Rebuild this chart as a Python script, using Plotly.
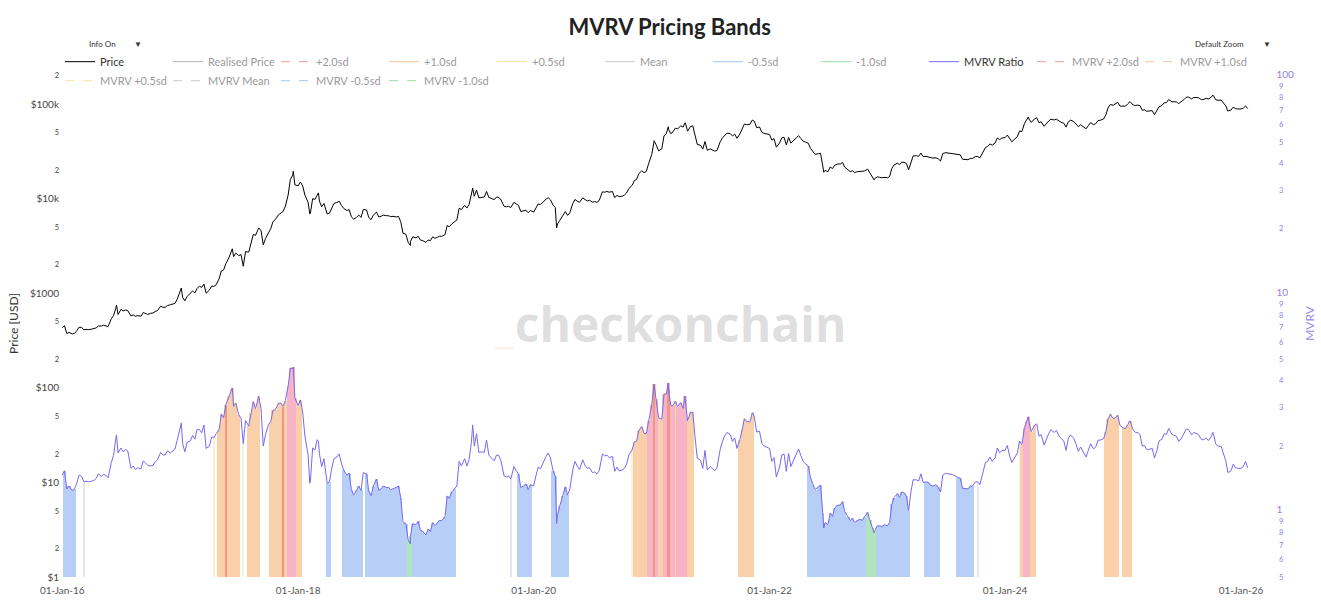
import pandas as pd
import plotly.graph_objects as go

# ---------------- data (samples on days 1, 8, 15, 22 of each month) ----------------
sample_days = [1, 8, 15, 22]
years = list(range(2016, 2026))

price_2016 = [434,453,375,385, 372,376,401,437, 435,412,415,412, 417,421,430,450, 450,460,455,444, 537,580,695,595,
              676,650,665,655, 575,590,570,580, 572,625,608,596, 614,618,640,655, 730,710,710,740, 755,770,780,860]
price_2017 = [1080,905,830,925, 990,1055,1010,1125, 1190,1150,1250,1000, 1080,1190,1180,1230, 1420,1720,1760,2050,
              2400,2800,2440,2650, 2500,2560,1930,2750, 2720,3420,4180,4100, 4900,4600,3250,3800, 4400,4800,5700,6000,
              6750,7100,7300,8200, 10900,16000,17700,14000]
price_2018 = [13650,15000,13650,10900, 9100,7000,10000,9800, 10900,9400,8200,8900, 6900,7000,8000,8900, 9100,9400,8500,7900,
              7500,7650,6450,6050, 6350,6700,6350,7700, 7600,6300,6000,6700, 7200,6400,6500,6700, 6600,6600,6450,6500,
              6400,6500,5700,4300, 4200,3450,3500,3950]
price_2019 = [3850,4000,3650,3600, 3450,3650,3600,3950, 3800,3900,4000,4000, 4150,5200,5050,5400, 5700,5950,7900,7700,
              8500,7950,8700,10700, 10600,12300,10200,10350, 10400,11900,10300,10100, 9750,10400,10300,9700,
              8300,8200,8300,8050, 9150,8800,8500,7300, 7400,7550,7100,7500]
price_2020 = [7200,8050,8800,8650, 9400,9850,10250,9700, 8550,8050,5400,5900, 6600,7300,6650,7100, 8850,9800,9400,9150,
              10200,9700,9450,9600, 9200,9300,9150,9550, 11800,11700,11900,11700, 11900,10250,10800,10500,
              10600,10900,11500,12800, 13800,15500,16000,18400, 19700,18800,19400,23300]
price_2021 = [29400,40000,36800,32100, 33500,46200,48600,54000, 48500,51000,55600,54500, 59000,57000,63200,51700,
              57800,58900,46400,37500, 36700,33400,40200,32500, 33500,32800,31800,32300, 39900,43800,47000,49300,
              48800,46000,48100,43500, 48200,53900,61500,60600, 61000,67500,65500,56300, 57200,50500,48900,48600]
price_2022 = [47700,41600,43100,35000, 38700,44000,44500,37000, 44400,38700,41000,42800, 46300,43200,40600,39700,
              38500,34000,31300,29400, 29800,30200,22100,19900, 19300,21600,20800,22600, 23300,23200,24100,21500,
              20100,19300,19700,18900, 19300,19400,19200,19600, 20500,18500,16900,16200, 17000,16800,16600,16800]
price_2023 = [16600,17100,20900,22700, 23700,22900,24300,24200, 23600,20200,24700,28300, 28400,28000,30300,27800,
              28000,27700,27000,26800, 27000,26300,25000,30000, 30600,30300,30300,30100, 29700,29200,29100,26100,
              25900,25800,26600,26600, 27900,27900,27000,30000, 34700,35600,37900,36700, 38700,43800,42000,43700]
price_2024 = [44200,47000,42500,39900, 43100,45300,52000,51000, 62400,68300,69500,64000, 69700,71600,63400,64900,
              58200,62300,66200,69200, 67800,69300,66000,64200, 62700,57000,64800,67600, 65400,61700,57600,60400,
              57300,54800,59100,63600, 60600,62100,67000,67400, 69500,76500,91000,98900, 97000,100000,104400,95200]
price_2025 = [94400,95000,100500,106100, 97700,96500,97500,96100, 86000,86800,83900,84100, 85200,77300,83700,93400,
              96500,103200,103500,111600, 105700,105700,105500,101000, 105700,111300,117700,118800,
              113300,117500,117400,116800, 111200,112100,115300,112700, 118500,122000,110800,109600,
              110000,102300,95500,84700, 86300,92700,89500,88600]
price_2026 = [88700,90500,95500,89500]

mvrv_2016 = [1.47,1.54,1.27,1.31, 1.25,1.27,1.35,1.47, 1.45,1.37,1.38,1.37, 1.38,1.39,1.42,1.49, 1.45,1.48,1.47,1.43,
             1.68,1.81,2.17,1.86, 1.96,1.88,1.93,1.90, 1.58,1.62,1.56,1.59, 1.57,1.71,1.67,1.63, 1.62,1.63,1.69,1.73,
             1.87,1.82,1.82,1.90, 1.86,1.90,1.93,2.12]
mvrv_2017 = [2.45,2.05,1.88,2.08, 2.11,2.24,2.15,2.39, 2.38,2.30,2.50,1.95, 2.00,2.20,2.19,2.28, 2.37,2.80,2.70,3.10,
             3.40,3.65,3.05,3.15, 2.78,2.69,2.05,2.62, 2.47,2.85,3.20,2.97, 3.38,2.97,2.00,2.26, 2.51,2.59,2.92,2.93,
             3.14,3.16,3.04,3.22, 3.76,4.57,4.54,3.33]
mvrv_2018 = [3.07,3.26,2.87,2.22, 1.82,1.38,1.96,1.92, 2.14,1.84,1.61,1.75, 1.35,1.37,1.57,1.75, 1.78,1.84,1.67,1.55,
             1.47,1.50,1.26,1.19, 1.25,1.31,1.25,1.51, 1.49,1.24,1.18,1.31, 1.41,1.25,1.27,1.31, 1.29,1.29,1.26,1.27,
             1.29,1.31,1.16,0.89, 0.88,0.74,0.77,0.88]
mvrv_2019 = [0.87,0.90,0.82,0.81, 0.78,0.83,0.81,0.89, 0.86,0.89,0.91,0.91, 0.94,1.18,1.15,1.23, 1.27,1.31,1.70,1.62,
             1.75,1.62,1.74,2.08, 2.00,2.28,1.87,1.88, 1.87,2.13,1.82,1.77, 1.71,1.82,1.81,1.70, 1.46,1.44,1.46,1.41,
             1.61,1.54,1.49,1.29, 1.31,1.34,1.26,1.33]
mvrv_2020 = [1.31,1.46,1.60,1.57, 1.71,1.79,1.86,1.76, 1.54,1.45,0.97,1.06, 1.18,1.30,1.19,1.27, 1.55,1.70,1.62,1.56,
             1.73,1.63,1.58,1.59, 1.51,1.52,1.49,1.54, 1.84,1.80,1.82,1.77, 1.79,1.53,1.60,1.54, 1.55,1.58,1.65,1.82,
             1.92,2.09,2.11,2.36, 2.46,2.29,2.28,2.62]
mvrv_2021 = [3.09,3.85,3.29,2.70, 2.66,3.47,3.47,3.65, 3.07,3.07,3.21,3.04, 3.17,2.98,3.24,2.61, 2.86,2.86,2.21,1.76,
             1.72,1.58,1.91,1.55, 1.61,1.58,1.54,1.58, 1.93,2.10,2.23,2.31, 2.26,2.10,2.18,1.95, 2.14,2.37,2.67,2.60,
             2.58,2.82,2.72,2.32, 2.34,2.06,2.00,1.98]
mvrv_2022 = [1.95,1.70,1.77,1.44, 1.60,1.82,1.84,1.53, 1.85,1.61,1.71,1.78, 1.94,1.81,1.70,1.66, 1.62,1.43,1.33,1.26,
             1.30,1.32,0.98,0.89, 0.87,0.98,0.95,1.04, 1.07,1.07,1.11,1.00, 0.94,0.91,0.93,0.89, 0.91,0.92,0.91,0.94,
             0.99,0.91,0.84,0.81, 0.86,0.86,0.85,0.87]
mvrv_2023 = [0.86,0.89,1.08,1.16, 1.21,1.16,1.23,1.22, 1.18,1.01,1.23,1.40, 1.40,1.38,1.49,1.36, 1.37,1.36,1.32,1.31,
             1.33,1.29,1.23,1.47, 1.50,1.49,1.49,1.48, 1.45,1.43,1.42,1.28, 1.28,1.27,1.31,1.31, 1.37,1.37,1.33,1.47,
             1.68,1.70,1.78,1.70, 1.77,1.96,1.86,1.91]
mvrv_2024 = [1.91,2.01,1.80,1.68, 1.80,1.86,2.11,2.03, 2.43,2.59,2.57,2.33, 2.49,2.53,2.22,2.26, 2.02,2.16,2.28,2.38,
             2.31,2.36,2.24,2.17, 2.11,1.91,2.17,2.25, 2.17,2.04,1.89,1.98, 1.87,1.78,1.91,2.05, 1.94,1.98,2.13,2.13,
             2.16,2.32,2.66,2.80, 2.67,2.70,2.77,2.49]
mvrv_2025 = [2.42,2.41,2.51,2.61, 2.37,2.31,2.31,2.26, 2.00,2.01,1.93,1.93, 1.95,1.76,1.90,2.11, 2.15,2.28,2.26,2.41,
             2.26,2.24,2.22,2.10, 2.18,2.28,2.39,2.39, 2.25,2.31,2.29,2.26, 2.14,2.14,2.18,2.12, 2.21,2.26,2.04,2.00,
             1.99,1.84,1.71,1.51, 1.54,1.65,1.59,1.58]
mvrv_2026 = [1.58,1.61,1.70,1.59]

# extra samples at local extremes
extra_dates = ['2016-06-17','2017-01-04','2017-06-11','2017-12-17','2018-02-06','2018-03-05','2018-12-15',
               '2019-06-26','2020-03-12','2021-01-08','2021-02-21','2021-04-14','2021-11-10','2022-06-18',
               '2022-11-21','2024-03-13','2025-10-06','2025-11-21']
extra_price = [750,1135,2950,19500,6900,11500,3200,12900,4900,41000,57500,63500,67500,19000,15800,73000,124500,84500]
extra_mvrv = [2.25,2.55,3.70,4.62,1.35,2.10,0.71,2.50,0.88,3.85,3.90,3.40,2.85,0.84,0.80,2.73,2.31,1.52]

# realised price (monthly, 1st of month) - hidden series
realised_price = [295,297,300,303,310,320,340,355,365,378,390,405,
                  440,470,500,540,620,780,950,1250,1600,1900,2300,3400,
                  4600,5000,5100,5100,5100,5100,5100,5100,5100,5100,4950,4750,
                  4450,4420,4400,4400,4500,4850,5300,5550,5700,5700,5700,5650,
                  5500,5700,5550,5600,5700,5900,6100,6400,6650,6850,7200,8000,
                  9500,12600,15800,18600,20200,21300,20800,20700,21600,22500,23600,24400,
                  24500,24200,24000,23900,23800,23000,22100,21750,21400,21100,20800,19700,
                  19300,19600,20000,20300,20400,20350,20400,20450,20300,20300,20700,21900,
                  23200,24000,25700,28000,28800,29300,29700,30200,30700,31200,32200,36300,
                  39000,41300,43000,43800,44800,46800,48400,50300,52000,53600,55200,56100,
                  56200]

# MVRV band regimes: (kind, start, end)
band_periods = [
    ('b','2016-01-05','2016-02-12'), ('b','2018-03-24','2018-04-09'), ('b','2018-05-18','2018-07-18'),
    ('b','2018-07-30','2019-05-06'), ('b','2019-11-10','2019-12-31'), ('b','2020-02-28','2020-04-18'),
    ('b','2022-04-27','2023-03-14'), ('b','2023-05-01','2023-06-10'), ('b','2023-08-05','2023-09-27'),
    ('g','2018-12-03','2018-12-20'), ('g','2022-10-30','2022-11-25'),
    ('l','2016-03-07','2016-03-10'), ('l','2019-10-20','2019-10-23'), ('l','2023-10-06','2023-10-10'),
    ('o','2017-04-28','2017-07-05'), ('o','2017-07-25','2017-09-05'), ('o','2017-10-04','2018-01-08'),
    ('o','2020-11-06','2021-05-14'), ('o','2021-09-29','2021-11-10'), ('o','2024-02-20','2024-04-06'),
    ('o','2024-11-03','2024-12-20'), ('o','2024-12-28','2025-01-26'),
    ('p','2017-11-26','2017-12-29'), ('p','2020-12-18','2021-01-02'), ('p','2021-01-04','2021-01-20'),
    ('p','2021-02-05','2021-03-10'), ('p','2021-03-18','2021-04-20'), ('p','2024-03-01','2024-03-15'),
    ('r','2017-05-20','2017-05-23'), ('r','2017-11-14','2017-11-16'), ('r','2021-01-07','2021-01-09'),
    ('r','2021-02-20','2021-02-22'),
    ('c','2017-04-14','2017-04-16'), ('c','2017-07-14','2017-07-16'), ('c','2020-10-31','2020-11-02'),
    ('c','2024-02-14','2024-02-16'),
]

# ---------------- assemble ----------------
dates = []
for y in years:
    for m in range(1, 13):
        for d in sample_days:
            dates.append(pd.Timestamp(year=y, month=m, day=d))
for d in sample_days:
    dates.append(pd.Timestamp(year=2026, month=1, day=d))

price = (price_2016 + price_2017 + price_2018 + price_2019 + price_2020 + price_2021 + price_2022 +
         price_2023 + price_2024 + price_2025 + price_2026)
mvrv = (mvrv_2016 + mvrv_2017 + mvrv_2018 + mvrv_2019 + mvrv_2020 + mvrv_2021 + mvrv_2022 +
        mvrv_2023 + mvrv_2024 + mvrv_2025 + mvrv_2026)

df = pd.DataFrame({'date': dates, 'price': price, 'mvrv': mvrv})
df = pd.concat([df, pd.DataFrame({'date': pd.to_datetime(extra_dates), 'price': extra_price, 'mvrv': extra_mvrv})])
df = df.sort_values('date').reset_index(drop=True)

rp_dates = [pd.Timestamp(year=y, month=m, day=1) for y in years for m in range(1, 13)] + [pd.Timestamp('2026-01-01')]

band_style = {
    'b': ('rgb(183,207,246)', 10), 'g': ('rgb(176,228,190)', 10), 'l': ('rgb(226,232,246)', 3),
    'o': ('rgb(250,208,170)', 10), 'p': ('rgb(246,180,198)', 9), 'r': ('rgb(240,150,130)', 3),
    'c': ('rgb(253,238,214)', 3),
}

fig = go.Figure()

# band shading (bars on MVRV axis)
for kind in ['l', 'c', 'b', 'g', 'o', 'p', 'r']:
    mask = pd.Series(False, index=df.index)
    for k, s, e in band_periods:
        if k == kind:
            mask |= (df['date'] >= pd.Timestamp(s)) & (df['date'] <= pd.Timestamp(e))
    sub = df[mask]
    if len(sub) == 0:
        continue
    color, wdays = band_style[kind]
    fig.add_trace(go.Bar(x=sub['date'], y=sub['mvrv'], yaxis='y2', width=wdays * 86400000,
                         marker=dict(color=color, line=dict(width=0)), showlegend=False,
                         hoverinfo='skip'))

fig.add_trace(go.Scatter(x=df['date'], y=df['price'], name='Price', mode='lines',
                         line=dict(color='black', width=1)))
fig.add_trace(go.Scatter(x=rp_dates, y=realised_price, name='Realised Price', mode='lines',
                         line=dict(color='rgb(110,110,110)', width=1), visible='legendonly'))
hidden_bands = [('+2.0sd', 'rgb(230,60,60)', 'dash'), ('+1.0sd', 'rgb(240,140,60)', 'solid'),
                ('+0.5sd', 'rgb(240,200,80)', 'solid'), ('Mean', 'rgb(150,150,150)', 'solid'),
                ('-0.5sd', 'rgb(90,140,230)', 'solid'), ('-1.0sd', 'rgb(60,180,90)', 'solid')]
for nm, col, dash in hidden_bands:
    fig.add_trace(go.Scatter(x=[None], y=[None], name=nm, mode='lines',
                             line=dict(color=col, width=1, dash=dash), visible='legendonly'))
fig.add_trace(go.Scatter(x=df['date'], y=df['mvrv'], name='MVRV Ratio', mode='lines', yaxis='y2',
                         line=dict(color='rgb(118,104,240)', width=1)))
for nm, col, dash in hidden_bands:
    fig.add_trace(go.Scatter(x=[None], y=[None], name='MVRV ' + nm, mode='lines', yaxis='y2',
                             line=dict(color=col, width=1, dash='dash'), visible='legendonly'))

FONT = 'Lato'
fig.update_layout(
    width=1321, height=613,
    margin=dict(l=60, r=71, t=70, b=36, autoexpand=False),
    paper_bgcolor='white', plot_bgcolor='white',
    barmode='overlay', bargap=0,
    font=dict(family=FONT, color='#444'),
    title=dict(text='<b>MVRV Pricing Bands</b>', x=0.507, xanchor='center', y=0.955, yref='container',
               yanchor='middle', font=dict(size=22, color='#222', family=FONT)),
    xaxis=dict(type='date', range=['2015-12-25', '2026-01-29'], tickformat='%d-%b-%y', dtick='M24',
               tick0='2016-01-01', showgrid=False, zeroline=False, showline=False, ticks='',
               ticklabelstandoff=6, tickfont=dict(size=10, color='#555'), automargin=False),
    yaxis=dict(type='log', range=[0, 5.36], dtick='D2', tickprefix='$', showgrid=False, zeroline=False,
               title=dict(text='Price [USD]', font=dict(size=12, color='#333'), standoff=8),
               tickfont=dict(size=10, color='#444'), automargin=False),
    yaxis2=dict(type='log', range=[-0.301, 2.03], dtick='D1', overlaying='y', side='right', showgrid=False,
                zeroline=False, ticklabelstandoff=28, automargin=False,
                title=dict(text='MVRV', font=dict(size=12, color='rgb(150,140,240)'), standoff=12),
                tickfont=dict(size=10, color='rgb(140,130,230)')),
    legend=dict(orientation='h', x=0.0, xanchor='left', y=1.045, yanchor='top', entrywidth=63,
                entrywidthmode='pixels', font=dict(size=11, color='#333'), bgcolor='rgba(0,0,0,0)',
                tracegroupgap=0),
    annotations=[dict(text="<b><span style='color:rgb(250,185,120)'>_</span>checkonchain</b>",
                      x=0.513, y=0.50, xref='paper', yref='paper', showarrow=False,
                      font=dict(size=48, color='rgba(0,0,0,0.14)', family='Open Sans'))],
    updatemenus=[
        dict(type='dropdown', x=0.014, xanchor='left', y=1.052, yanchor='middle', showactive=True,
             bgcolor='rgba(0,0,0,0)', bordercolor='rgba(0,0,0,0)', borderwidth=0,
             font=dict(size=8, color='#333'),
             buttons=[dict(label='Info On', method='relayout', args=[{'annotations[0].visible': True}]),
                      dict(label='Info Off', method='relayout', args=[{'annotations[0].visible': False}])]),
        dict(type='dropdown', x=0.944, xanchor='left', y=1.052, yanchor='middle', showactive=True,
             bgcolor='rgba(0,0,0,0)', bordercolor='rgba(0,0,0,0)', borderwidth=0,
             font=dict(size=8, color='#333'),
             buttons=[dict(label='Default Zoom', method='relayout', args=[{'xaxis.autorange': True}]),
                      dict(label='2020 onwards', method='relayout', args=[{'xaxis.range': ['2020-01-01', '2026-01-29']}])]),
    ],
)

fig.write_html('out.html')
